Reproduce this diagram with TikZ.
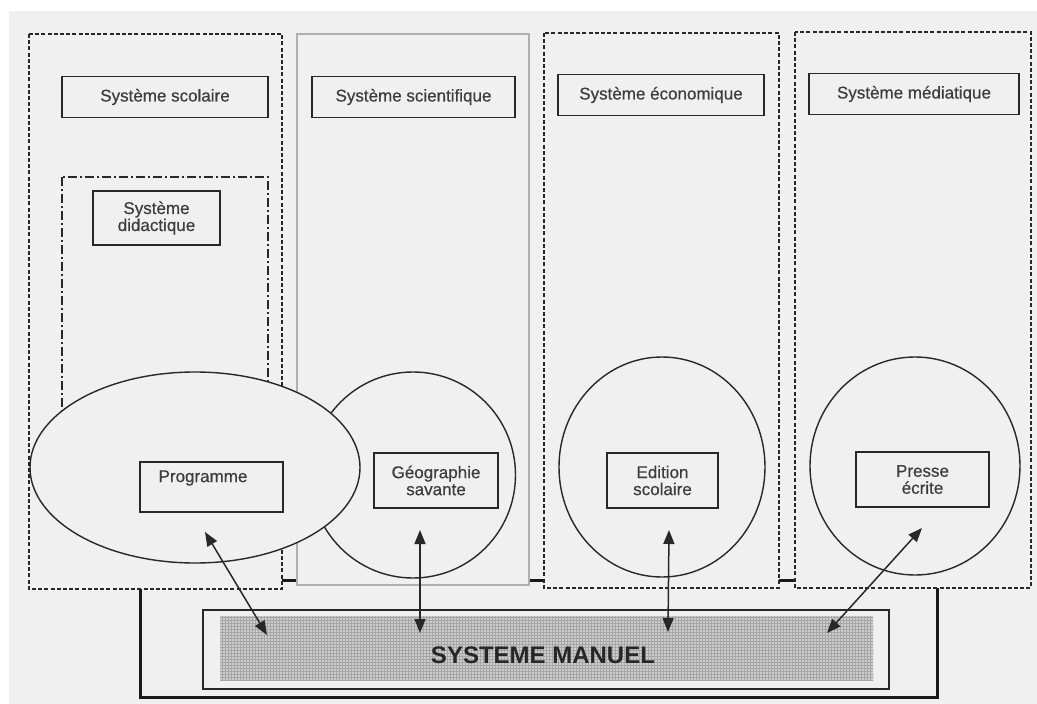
\documentclass[tikz,border=0pt]{standalone}
\usepackage{fontspec}
\setmainfont{Liberation Sans}
\newfontfamily\lblfont{Liberation Sans}[BoldFont={Liberation Sans},BoldFeatures={FakeBold=0.5}]
\usetikzlibrary{shapes.geometric,arrows.meta,patterns}
\definecolor{bg}{RGB}{240,240,240}
\definecolor{ink}{RGB}{40,40,40}
\definecolor{colgray}{RGB}{175,175,175}
\definecolor{hatch}{RGB}{205,205,205}
\begin{document}
\begin{tikzpicture}[x=1pt,y=-1pt,
  colbox/.style={draw=ink,fill=bg,line width=1.8pt,dash pattern=on 4pt off 2.2pt},
  txt/.style={font=\lblfont\bfseries\fontsize{17}{17}\selectfont,text=ink!90,align=center},
  titlebox/.style={draw=ink,line width=1.8pt,fill=bg,minimum height=41pt,inner sep=0pt,txt},
  itembox/.style={draw=ink,line width=1.5pt,fill=bg,inner sep=0pt,txt},
  ring/.style={draw=ink,line width=1.4pt,fill=bg,ellipse,inner sep=0pt},
  link/.style={draw=ink,line width=1.5pt,{Triangle[length=14pt,width=11pt]}-{Triangle[length=14pt,width=11pt]}}
]
\useasboundingbox (0,0) rectangle (1037,704);
\fill[white] (0,0) rectangle (1037,704);
\fill[bg] (9,11) rectangle (1037,704);

% outer frame of the manual system (partly hidden behind the columns)
\draw[draw=black!90,line width=3pt] (140,580) rectangle (937,697);

% columns
\draw[colbox] (29,34) rectangle (282,589);
\draw[draw=colgray,fill=bg,line width=1.3pt] (297,34) rectangle (529,585);
\draw[colbox] (544,33) rectangle (779,588);
\draw[colbox] (795,32) rectangle (1031,588);

% didactic system (dash-dot)
\draw[draw=ink,line width=1.5pt,dash pattern=on 9pt off 3pt on 2pt off 3pt] (62,177) rectangle (268,480);

% titles
\node[titlebox,minimum width=206pt] (scol) at (165,97) {Système scolaire};
\node[titlebox,minimum width=203pt] (scien) at (413.5,97) {Système scientifique};
\node[titlebox,minimum width=206pt] (eco) at (661,95) {Système économique};
\node[titlebox,minimum width=210pt] (media) at (914,94) {Système médiatique};
\node[itembox,minimum width=127pt,minimum height=54pt] (did) at (156.5,218) {Système\\didactique};

% circles and ellipse
\node[ring,minimum width=205pt,minimum height=206pt] (geoc) at (413,475) {};
\node[ring,minimum width=330pt,minimum height=191pt] (progc) at (195,467.5) {};
\node[ring,minimum width=206pt,minimum height=220pt] (educ) at (662,467) {};
\node[ring,minimum width=210pt,minimum height=218pt] (pressc) at (915,466) {};

% inner boxes
\node[itembox,minimum width=143pt,minimum height=50pt] (prog) at (211.5,487) {};
\node[txt] (progt) at (203,478) {Programme};
\node[itembox,minimum width=124pt,minimum height=55pt] (geo) at (436,480.5) {Géographie\\savante};
\node[itembox,minimum width=111pt,minimum height=55pt] (edu) at (662.5,480.5) {Edition\\scolaire};
\node[itembox,minimum width=133pt,minimum height=55pt] (press) at (922.5,479.5) {Presse\\écrite};

% manual system
\draw[draw=ink,line width=1.5pt,fill=bg] (203,610) rectangle (889,689);
\path[fill=hatch,postaction={pattern=grid,pattern color=gray!70}] (220,616) rectangle (873,680);
\node[font=\bfseries\fontsize{24}{24}\selectfont,text=black!85] (man) at (543,655) {SYSTEME MANUEL};

% arrows
\coordinate (a1s) at (205,532); \coordinate (a1e) at (267,635);
\coordinate (a2s) at (420,530); \coordinate (a2e) at (420,633);
\coordinate (a3s) at (669,530); \coordinate (a3e) at (668,632);
\coordinate (a4s) at (922,528); \coordinate (a4e) at (827,633);
\draw[link] (a1s) -- (a1e);
\draw[link] (a2s) -- (a2e);
\draw[link] (a3s) -- (a3e);
\draw[link] (a4s) -- (a4e);
\end{tikzpicture}
\end{document}
